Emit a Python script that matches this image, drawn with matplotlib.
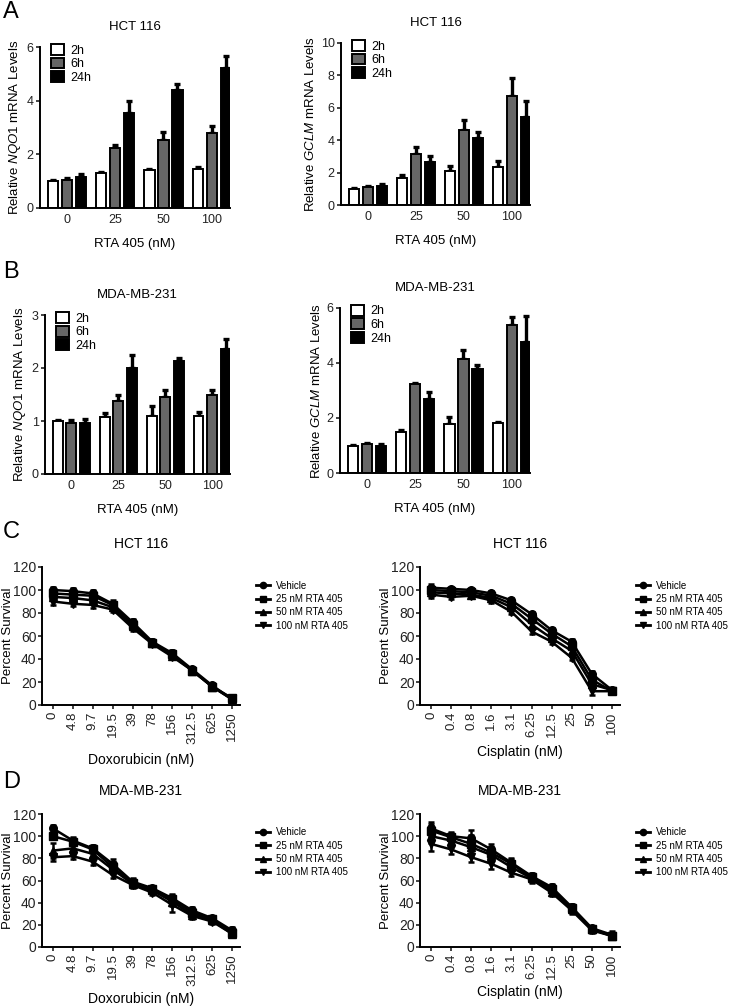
import matplotlib
matplotlib.use("Agg")
import matplotlib.pyplot as plt
from matplotlib.lines import Line2D
import numpy as np

plt.rcParams['font.family'] = ['Liberation Sans', 'DejaVu Sans']
plt.rcParams['mathtext.fontset'] = 'custom'
plt.rcParams['mathtext.rm'] = 'Liberation Sans'
plt.rcParams['mathtext.it'] = 'Liberation Sans:italic'

# ---------------- data ----------------
rta_doses = ["0", "25", "50", "100"]
times = ["2h", "6h", "24h"]

# Panel A: HCT 116
nqo1_hct_mean = [[1.00, 1.30, 1.42, 1.47],
                 [1.05, 2.22, 2.55, 2.80],
                 [1.15, 3.55, 4.38, 5.20]]
nqo1_hct_err = [[0.03, 0.05, 0.05, 0.05],
                [0.06, 0.12, 0.30, 0.25],
                [0.12, 0.42, 0.25, 0.47]]
gclm_hct_mean = [[1.00, 1.65, 2.12, 2.37],
                 [1.10, 3.15, 4.60, 6.70],
                 [1.15, 2.67, 4.12, 5.45]]
gclm_hct_err = [[0.03, 0.18, 0.30, 0.32],
                [0.06, 0.40, 0.65, 1.15],
                [0.15, 0.35, 0.40, 0.95]]

# Panel B: MDA-MB-231
nqo1_mda_mean = [[1.00, 1.08, 1.10, 1.09],
                 [0.97, 1.37, 1.45, 1.49],
                 [0.96, 2.00, 2.13, 2.35]]
nqo1_mda_err = [[0.01, 0.08, 0.18, 0.08],
                [0.05, 0.13, 0.14, 0.09],
                [0.07, 0.25, 0.06, 0.20]]
gclm_mda_mean = [[1.00, 1.50, 1.77, 1.80],
                 [1.04, 3.22, 4.13, 5.37],
                 [1.00, 2.68, 3.77, 4.77]]
gclm_mda_err = [[0.02, 0.06, 0.28, 0.07],
                [0.05, 0.04, 0.35, 0.30],
                [0.05, 0.25, 0.17, 0.95]]

# Panels C/D: survival
groups = ["Vehicle", "25 nM RTA 405", "50 nM RTA 405", "100 nM RTA 405"]
dox_ticks = ["0", "4.8", "9.7", "19.5", "39", "78", "156", "312.5", "625", "1250"]
cis_ticks = ["0", "0.4", "0.8", "1.6", "3.1", "6.25", "12.5", "25", "50", "100"]

dox_hct = [[100, 99, 97, 88, 72, 55, 45, 31, 17, 5],
           [97, 96, 95, 87, 70, 54, 44, 30, 16, 6],
           [94, 93, 91, 85, 69, 54, 43, 30, 16, 5],
           [90, 88, 87, 83, 67, 53, 42, 30, 16, 5]]
dox_hct_err = [[3, 3, 3, 3, 3, 2, 3, 2, 2, 2],
               [3, 3, 3, 3, 3, 2, 3, 2, 2, 2],
               [3, 2, 3, 2, 3, 2, 2, 2, 2, 2],
               [3, 2, 3, 2, 3, 2, 2, 2, 2, 2]]
cis_hct = [[102, 101, 100, 97, 91, 79, 65, 55, 27, 13],
           [100, 99, 98, 95, 88, 75, 62, 51, 22, 12],
           [98, 97, 96, 93, 85, 70, 58, 47, 18, 13],
           [96, 94, 95, 91, 81, 64, 55, 41, 12, 12]]
cis_hct_err = [[3, 2, 2, 2, 2, 2, 2, 2, 3, 2],
               [3, 2, 2, 2, 2, 2, 2, 2, 3, 2],
               [3, 2, 2, 2, 2, 2, 2, 2, 3, 2],
               [3, 2, 2, 2, 2, 2, 2, 2, 3, 2]]
dox_mda = [[107, 96, 89, 75, 59, 53, 44, 33, 26, 15],
           [100, 95, 88, 72, 58, 52, 43, 31, 25, 13],
           [87, 89, 84, 70, 57, 51, 41, 29, 24, 12],
           [81, 82, 77, 65, 56, 49, 38, 28, 23, 12]]
dox_mda_err = [[3, 3, 3, 4, 3, 2, 4, 3, 2, 3],
               [3, 3, 3, 4, 3, 2, 4, 3, 2, 3],
               [7, 3, 3, 4, 3, 2, 4, 3, 2, 3],
               [3, 3, 3, 3, 3, 2, 6, 3, 2, 3]]
cis_mda = [[107, 100, 98, 88, 76, 64, 54, 36, 17, 11],
           [105, 99, 93, 85, 75, 63, 52, 35, 16, 10],
           [100, 96, 90, 83, 72, 62, 50, 34, 16, 10],
           [93, 88, 81, 75, 67, 61, 49, 33, 15, 10]]
cis_mda_err = [[6, 4, 8, 5, 4, 3, 3, 3, 2, 3],
               [6, 4, 8, 5, 4, 3, 3, 3, 2, 3],
               [6, 4, 8, 5, 4, 3, 3, 3, 2, 3],
               [6, 4, 4, 5, 3, 3, 3, 3, 2, 3]]

# ---------------- figure ----------------
W, H = 737, 1006
fig = plt.figure(figsize=(W / 100, H / 100), dpi=100)


def ax_px(x0, x1, y0, y1):
    return fig.add_axes([x0 / W, 1 - y1 / H, (x1 - x0) / W, (y1 - y0) / H])


def style(ax, fs=8):
    for s in ["top", "right"]:
        ax.spines[s].set_visible(False)
    for s in ["left", "bottom"]:
        ax.spines[s].set_linewidth(1.4)
    ax.tick_params(axis="both", direction="out", length=3, width=1.2,
                   labelsize=fs, pad=1.5, colors="#222222")


bar_colors = ["white", "#666666", "black"]


def bar_panel(ax, means, errs, ymax, ystep, gene, title):
    x = np.arange(len(rta_doses))
    off = [-0.29, 0.0, 0.29]
    w = 0.21
    for i in range(3):
        ax.bar(x + off[i], means[i], w, color=bar_colors[i], edgecolor="black",
               linewidth=1.4, label=times[i], zorder=2)
        ax.errorbar(x + off[i], means[i], yerr=[np.zeros(4), errs[i]], fmt="none",
                    ecolor="black", elinewidth=2.4, capsize=2, capthick=2.4, zorder=1)
    ax.set_xticks(x)
    ax.set_xticklabels(rta_doses)
    ax.set_xlim(-0.56, 3.38)
    ax.set_ylim(0, ymax)
    ax.set_yticks(np.arange(0, ymax + 0.01, ystep))
    style(ax, 9)
    ax.tick_params(axis="x", length=0, pad=4)
    ax.set_ylabel("Relative $\\it{" + gene + "}$ mRNA Levels", fontsize=9.5, labelpad=3)
    ax.set_xlabel("RTA 405 (nM)", fontsize=9.5, labelpad=9)
    ax.set_title(title, fontsize=9.5, pad=12)
    ax.legend(loc="upper left", bbox_to_anchor=(0.03, 1.05), frameon=False,
              fontsize=9, handlelength=1.1, handleheight=0.95, handletextpad=0.5,
              labelspacing=0.08, borderaxespad=0)


markers = ["o", "s", "^", "v"]


def line_panel(ax, data, errs, ticks, xlabel, title, leg_x, xpad, ylab_px):
    x = np.arange(len(ticks))
    for i in range(4):
        ax.errorbar(x, data[i], yerr=errs[i], color="black", marker=markers[i],
                    markersize=5.5, linewidth=1.8, elinewidth=1.8, capsize=2.5,
                    capthick=1.8, label=groups[i])
    ax.set_xticks(x)
    ax.set_xticklabels(ticks, rotation=90)
    ax.set_xlim(-0.55, 9.4)
    ax.set_ylim(0, 120)
    ax.set_yticks(np.arange(0, 121, 20))
    style(ax, 9)
    ax.tick_params(axis="y", labelsize=10, pad=1)
    ax.tick_params(axis="x", labelsize=9.5)
    ax.set_ylabel("Percent Survival", fontsize=9.5)
    # place the y label at a fixed pixel offset left of the axis
    bbox = ax.get_position()
    ax.yaxis.set_label_coords(-(bbox.x0 * W - ylab_px) / (bbox.width * W), 0.5)
    ax.set_xlabel(xlabel, fontsize=10, labelpad=xpad)
    ax.set_title(title, fontsize=10, pad=14)
    handles = [Line2D([0], [0], color="black", marker=markers[i], markersize=4.5,
                      linewidth=2.0) for i in range(4)]
    ax.legend(handles, groups, loc="upper left", bbox_to_anchor=(leg_x, 0.93),
              frameon=False, fontsize=7, handlelength=1.5, handletextpad=0.6,
              labelspacing=0.35, borderaxespad=0)


# Panel A
axA1 = ax_px(40, 230, 47, 208)
bar_panel(axA1, nqo1_hct_mean, nqo1_hct_err, 6, 2, "NQO1", "HCT 116")
axA2 = ax_px(341, 530, 43, 205)
bar_panel(axA2, gclm_hct_mean, gclm_hct_err, 10, 2, "GCLM", "HCT 116")

# Panel B
axB1 = ax_px(45, 230, 315, 474)
bar_panel(axB1, nqo1_mda_mean, nqo1_mda_err, 3, 1, "NQO1", "MDA-MB-231")
axB2 = ax_px(340, 530, 308, 473)
bar_panel(axB2, gclm_mda_mean, gclm_mda_err, 6, 2, "GCLM", "MDA-MB-231")

# Panel C
axC1 = ax_px(42, 240, 567, 705)
line_panel(axC1, dox_hct, dox_hct_err, dox_ticks, "Doxorubicin (nM)", "HCT 116", 1.06, 6, 2)
axC2 = ax_px(420, 620, 567, 705)
line_panel(axC2, cis_hct, cis_hct_err, cis_ticks, "Cisplatin (nM)", "HCT 116", 1.06, 6, 380)

# Panel D
axD1 = ax_px(42, 240, 814, 947)
line_panel(axD1, dox_mda, dox_mda_err, dox_ticks, "Doxorubicin (nM)", "MDA-MB-231", 1.06, 4, 2)
axD2 = ax_px(420, 620, 814, 947)
line_panel(axD2, cis_mda, cis_mda_err, cis_ticks, "Cisplatin (nM)", "MDA-MB-231", 1.06, 4, 380)

for ax in (axC1, axC2, axD1, axD2):
    ax.yaxis.label.set_va("top")

# panel letters
for letter, ypx in [("A", 12), ("B", 272), ("C", 532), ("D", 782)]:
    fig.text(3 / W, 1 - ypx / H, letter, fontsize=17, va="center", ha="left")

fig.savefig("out.png", dpi=100)
